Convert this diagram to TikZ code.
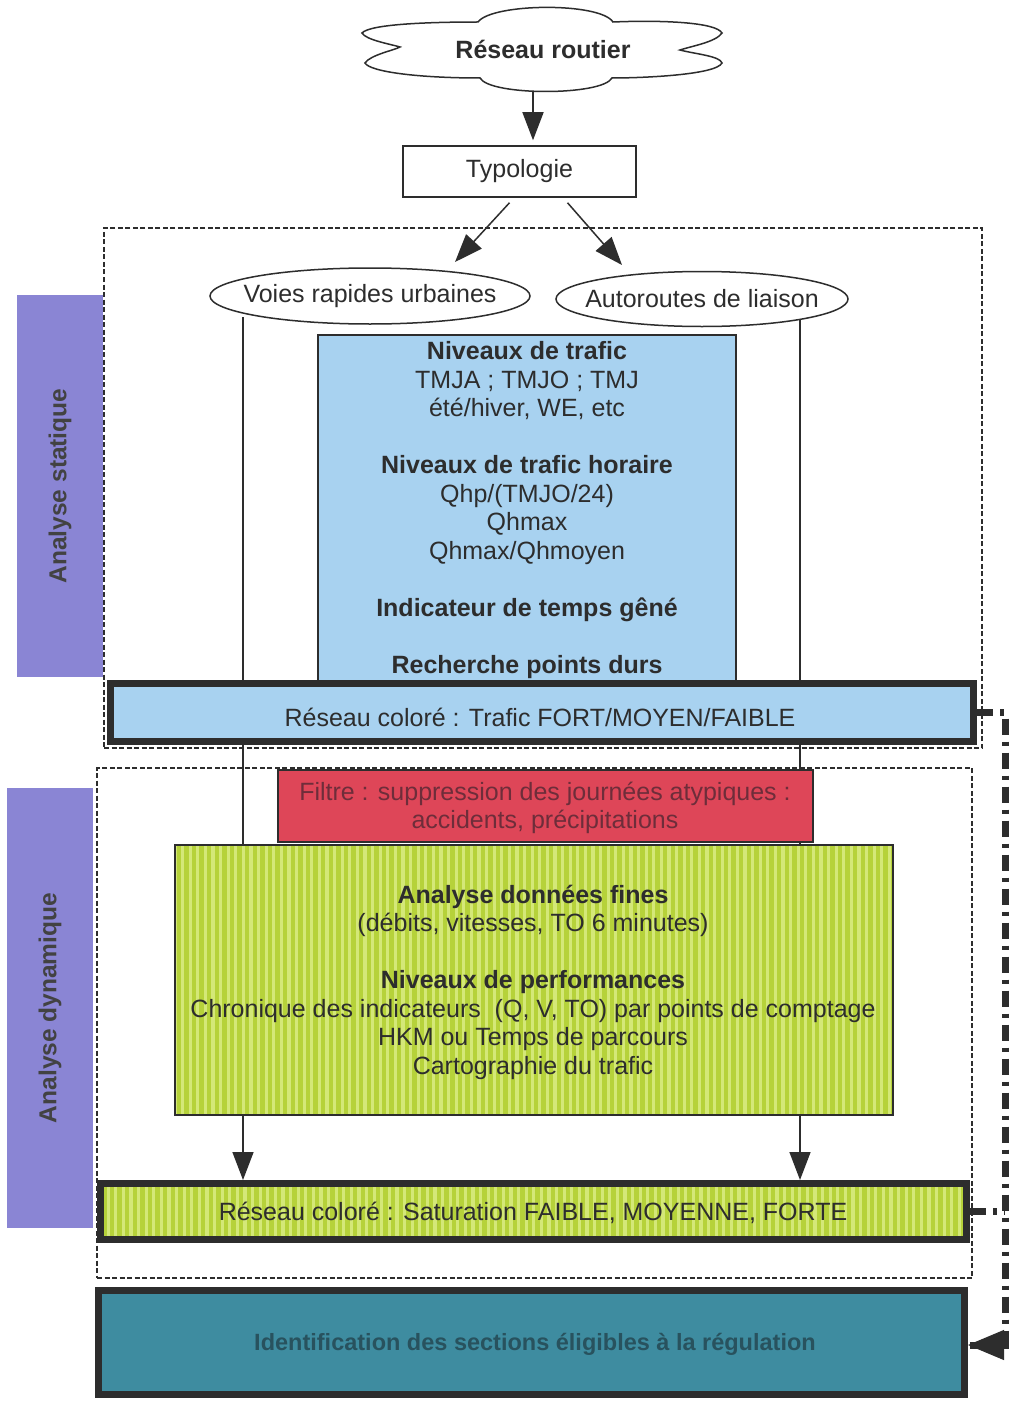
\documentclass[tikz,border=0pt]{standalone}
\usepackage{fontspec}
\setmainfont{Liberation Sans}
\usetikzlibrary{arrows.meta,shapes.geometric,calc}
\definecolor{lblue}{RGB}{168,210,240}
\definecolor{purp}{RGB}{138,133,212}
\definecolor{redf}{RGB}{222,70,88}
\definecolor{redtxt}{RGB}{110,45,58}
\definecolor{grn}{RGB}{182,210,58}
\definecolor{grnl}{RGB}{212,232,120}
\definecolor{tealf}{RGB}{62,140,160}
\definecolor{tealtxt}{RGB}{40,82,94}
\definecolor{ink}{RGB}{45,45,45}
\begin{document}
\begin{tikzpicture}[x=1pt,y=-1pt,
  txt/.style={font=\fontsize{25}{28.5}\selectfont, text=ink, align=center, inner sep=0pt},
  arr/.style={draw=ink, line width=1.5pt, -{Triangle[width=21pt,length=28pt]}},
  dbox/.style={draw=ink, line width=1.3pt, dash pattern=on 5pt off 2.5pt, inner sep=0pt},
  side/.style={fill=purp, draw=none, inner sep=0pt, text=ink!90,
     font=\fontsize{24.5}{28}\selectfont\bfseries},
  thickbar/.style={draw=ink, line width=7pt, inner sep=0pt},
  stripes/.style={path picture={
     \foreach \i in {0,...,115}
       \draw[grnl, line width=3.2pt]
         ([xshift=\i*7.6pt]path picture bounding box.north west) --
         ([xshift=\i*7.6pt]path picture bounding box.south west);}},
  fb/.style={draw=ink, line width=7pt, dash pattern=on 16pt off 7pt on 4pt off 7pt}
]
\useasboundingbox[fill=white] (0,0) rectangle (1013,1402);

% cloud
\draw[ink, line width=1.5pt, fill=white]
  (478,22) .. controls (492,3) and (600,2) .. (613,22)
  .. controls (660,20) and (716,22) .. (722,33)
  .. controls (716,42) and (692,46) .. (680,50)
  .. controls (695,54) and (720,56) .. (722,63)
  .. controls (716,75) and (642,78) .. (612,78)
  .. controls (602,96) and (490,96) .. (480,78)
  .. controls (420,78) and (370,72) .. (365,63)
  .. controls (370,55) and (395,50) .. (400,47)
  .. controls (390,44) and (366,40) .. (362,33)
  .. controls (370,24) and (430,22) .. (478,22) -- cycle;
\node[txt, font=\fontsize{25}{28}\selectfont\bfseries] (cloudT) at (543,49) {Réseau routier};
\coordinate (cloudB) at (533,91);

% typologie
\node[txt, draw=ink, line width=1.5pt, minimum width=233pt, minimum height=51pt] (typo) at (519.5,171.5) {Typologie};
\draw[arr, shorten >=5pt] (cloudB) -- (cloudB |- typo.north);

% dashed frames
\node[dbox, minimum width=878pt, minimum height=520pt] (statbox) at (543,488) {};
\node[dbox, minimum width=875pt, minimum height=510pt] (dynbox) at (534.5,1023) {};

% side labels
\node[side, rotate=90, minimum width=382pt, minimum height=86pt] (stat) at (60,486) {Analyse statique};
\node[side, rotate=90, minimum width=440pt, minimum height=86pt] (dyn) at (50,1008) {Analyse dynamique};

% ellipses
\node[ellipse, draw=ink, line width=1.5pt, minimum width=320pt, minimum height=56pt, inner sep=0pt] (voies) at (370,296) {};
\node[txt] (voiesT) at (voies) {Voies rapides urbaines};
\node[ellipse, draw=ink, line width=1.5pt, minimum width=292pt, minimum height=55pt, inner sep=0pt] (auto) at (702,299) {};
\node[txt] (autoT) at (auto) {Autoroutes de liaison};
\draw[arr] ($(typo.south)+(-10,5)$) -- ($(voies.center)+(85,-34)$);
\draw[arr] ($(typo.south)+(48,5)$) -- ($(auto.center)+(-80,-34)$);

% bottom bars (needed for line targets)
\node[thickbar, fill=grn, stripes, minimum width=866pt, minimum height=56pt] (satbar) at (533.5,1211.5) {};
\node[txt] (satT) at (533,1213) {Réseau coloré : Saturation FAIBLE, MOYENNE, FORTE};

% long vertical connectors
\coordinate (vl) at (243,317);
\coordinate (vr) at (800,319);
\draw[arr] (vl) -- (vl |- satbar.north);
\draw[arr] (vr) -- (vr |- satbar.north);

% static analysis box
\node[draw=ink, line width=1.2pt, fill=lblue, minimum width=418pt, minimum height=350pt, inner sep=0pt] (niv) at (527,510) {};
\node[txt] (nivT) at (527,510) {\textbf{Niveaux de trafic}\\
  TMJA ; TMJO ; TMJ\\
  été/hiver, WE, etc\\[28.5pt]
  \textbf{Niveaux de trafic horaire}\\
  Qhp/(TMJO/24)\\
  Qhmax\\
  Qhmax/Qhmoyen\\[28.5pt]
  \textbf{Indicateur de temps gêné}\\[28.5pt]
  \textbf{Recherche points durs}};

\node[thickbar, fill=lblue, minimum width=863pt, minimum height=58pt] (bar1) at (542,712.5) {};
\node[txt] (bar1T) at (540,717) {Réseau coloré : Trafic FORT/MOYEN/FAIBLE};

% filter
\node[draw=ink, line width=1.5pt, fill=redf, minimum width=535pt, minimum height=72pt, inner sep=0pt] (filt) at (545.5,806) {};
\node[txt, text=redtxt] (filtT) at (545,808) {Filtre : suppression des journées atypiques :\\accidents, précipitations};

% dynamic analysis box
\node[draw=ink, line width=1.5pt, fill=grn, stripes, minimum width=718pt, minimum height=270pt, inner sep=0pt] (fine) at (534,980) {};
\node[txt] (fineT) at (533,982) {\textbf{Analyse données fines}\\
  (débits, vitesses, TO 6 minutes)\\[28.5pt]
  \textbf{Niveaux de performances}\\
  Chronique des indicateurs~ (Q, V, TO) par points de comptage\\
  HKM ou Temps de parcours\\
  Cartographie du trafic};

% identification
\node[thickbar, fill=tealf, minimum width=866pt, minimum height=104pt] (ident) at (531.5,1342.5) {};
\node[txt, text=tealtxt, font=\fontsize{23.5}{28}\selectfont\bfseries] (identT) at (535,1344) {Identification des sections éligibles à la régulation};

% feedback connector
\coordinate (fbtop) at (1005,712.5);
\coordinate (fbbot) at (1005,1345);
\draw[fb] (bar1.east) -- (fbtop) -- (fbbot) -- (fbbot -| ident.east);
\draw[draw=ink, line width=1pt, -{Triangle[width=30pt,length=36pt]}] ($(fbbot -| ident.east)+(2,0)$) -- (fbbot -| ident.east);
\draw[fb] (satbar.east) -- (fbtop |- satbar.east);
\end{tikzpicture}
\end{document}
